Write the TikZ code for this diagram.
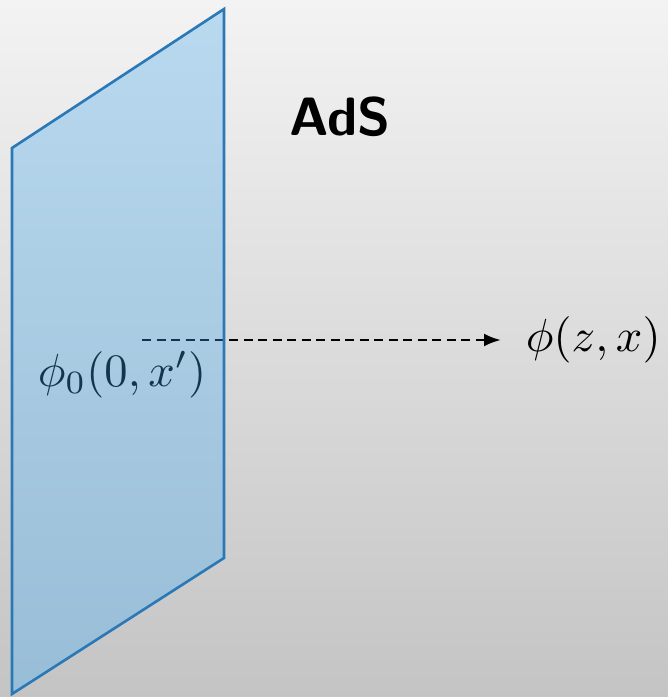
\documentclass[tikz,border=0pt]{standalone}
\usepackage{fontspec}
\usetikzlibrary{arrows.meta}
\definecolor{panelstroke}{RGB}{42,120,182}
\definecolor{paneltop}{RGB}{185,217,239}
\definecolor{panelbot}{RGB}{152,189,214}
\definecolor{navytext}{RGB}{22,52,78}
\definecolor{bgtop}{RGB}{243,243,243}
\definecolor{bgbot}{RGB}{196,196,196}
\tikzset{
  formula/.style={inner sep=0pt, scale=4.65},
  dasharrow/.style={line width=2.7pt, dash pattern=on 9pt off 5.5pt, -{Latex[length=17pt,width=13pt]}},
  panelline/.style={draw=panelstroke, line width=2.6pt, line join=miter},
  adslabel/.style={inner sep=0pt, scale=5.4, font=\sffamily\bfseries}
}
\begin{document}
\begin{tikzpicture}[x=1pt,y=-1pt]
\useasboundingbox (0,0) rectangle (668,697);
\shade[top color=bgtop, bottom color=bgbot] (0,0) rectangle (668,697);
% panel
\coordinate (p1) at (12,148);
\coordinate (p2) at (224,9);
\coordinate (p3) at (224,558);
\coordinate (p4) at (12,694);
\shade[top color=paneltop, bottom color=panelbot] (p1) -- (p2) -- (p3) -- (p4) -- cycle;
% labels
\node[adslabel] (ads) at (340,117) {AdS};
\node[formula, anchor=west] (phiz) at (525,340) {$\phi(z,x)$};
\node[formula, text=navytext] (phizero) at (122,375) {$\phi_0(0,x')$};
\coordinate (start) at (142,340);
\draw[dasharrow] (start) -- ([xshift=-24pt]phiz.west);
\begin{scope}
\clip (p1) -- (p2) -- (p3) -- (p4) -- cycle;
\draw[dasharrow, draw=navytext] (start) -- ([xshift=-24pt]phiz.west);
\end{scope}
\draw[panelline] (p1) -- (p2) -- (p3) -- (p4) -- cycle;
\end{tikzpicture}
\end{document}
